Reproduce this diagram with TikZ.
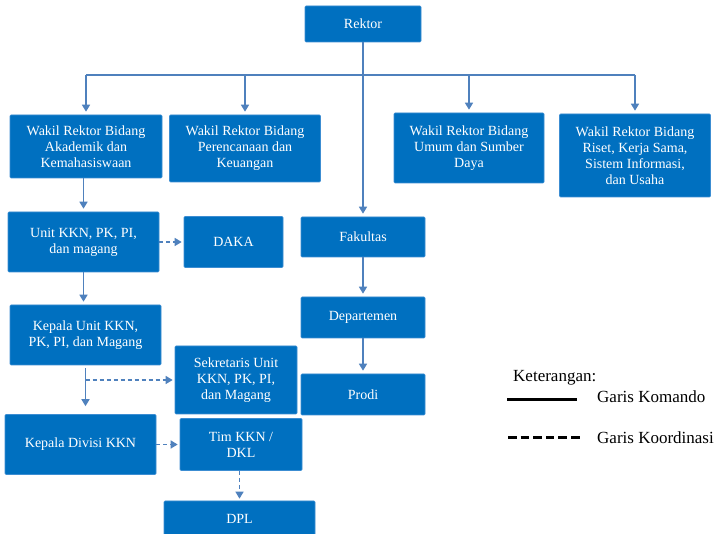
\documentclass[tikz,border=0pt]{standalone}
\usepackage{fontspec}
\setmainfont{Liberation Serif}
\usetikzlibrary{arrows.meta}
\definecolor{boxblue}{HTML}{0070C0}
\definecolor{boxedge}{HTML}{3C8DD2}
\definecolor{linkblue}{HTML}{4F81BD}
\begin{document}
\begin{tikzpicture}[x=1pt,y=-1pt,
  box/.style={draw=boxedge, line width=0.6pt, fill=boxblue, text=white, align=center,
    font=\fontsize{14}{16}\selectfont, inner sep=0pt, rounded corners=1pt},
  cmd/.style={draw=linkblue, line width=1.5pt},
  cmdarrow/.style={cmd, -{Triangle[width=8pt,length=7pt]}, shorten >=3pt},
  coord/.style={draw=linkblue, line width=1.3pt, dash pattern=on 4pt off 3pt,
    -{Triangle[width=8pt,length=7pt]}, shorten >=2pt},
  legendtext/.style={font=\fontsize{17}{20}\selectfont, inner sep=0pt, anchor=west}
]
\useasboundingbox (0,0) rectangle (718,534);
\fill[white] (0,0) rectangle (718,534);

% boxes
\node[box, minimum width=116pt, minimum height=36pt] (rektor) at (363,24) {Rektor};
\node[box, minimum width=152pt, minimum height=63pt] (wr1) at (86,146.5) {Wakil Rektor Bidang\\Akademik dan\\Kemahasiswaan};
\node[box, minimum width=151pt, minimum height=67pt] (wr2) at (245,148.5) {Wakil Rektor Bidang\\Perencanaan dan\\Keuangan};
\node[box, minimum width=150pt, minimum height=70pt] (wr3) at (469,148) {Wakil Rektor Bidang\\Umum dan Sumber\\Daya};
\node[box, minimum width=151pt, minimum height=83pt] (wr4) at (635,155.5) {Wakil Rektor Bidang\\Riset, Kerja Sama,\\Sistem Informasi,\\dan Usaha};

\node[box, minimum width=151pt, minimum height=60pt] (unit) at (83.5,242) {Unit KKN, PK, PI,\\dan magang};
\node[box, minimum width=99pt, minimum height=51pt] (daka) at (233.5,242) {DAKA};
\node[box, minimum width=151pt, minimum height=60pt] (kepunit) at (85.5,335) {Kepala Unit KKN,\\PK, PI, dan Magang};
\node[box, minimum width=122pt, minimum height=68pt] (sekr) at (236,380) {Sekretaris Unit\\KKN, PK, PI,\\dan Magang};
\node[box, minimum width=151pt, minimum height=60pt] (kepdiv) at (80.5,444.5) {Kepala Divisi KKN};
\node[box, minimum width=122pt, minimum height=52pt] (tim) at (241,444.5) {Tim KKN /\\DKL};
\node[box, minimum width=151pt, minimum height=35pt] (dpl) at (239.5,518.5) {DPL};

\node[box, minimum width=124pt, minimum height=40pt] (fak) at (363,237) {Fakultas};
\node[box, minimum width=124pt, minimum height=41pt] (dept) at (363,317.5) {Departemen};
\node[box, minimum width=124pt, minimum height=41pt] (prodi) at (363,394.5) {Prodi};

% command lines
\coordinate (bar) at (363,75);
\draw[cmd] (bar -| wr1.north) -- (bar -| wr4.north);
\draw[cmdarrow] (rektor.south) -- (fak.north);
\draw[cmdarrow] (bar -| wr1.north) -- (wr1.north);
\draw[cmdarrow] (bar -| wr2.north) -- (wr2.north);
\draw[cmdarrow] (bar -| wr3.north) -- (wr3.north);
\draw[cmdarrow] (bar -| wr4.north) -- (wr4.north);
\draw[cmdarrow] (wr1.south -| unit.north) -- (unit.north);
\draw[cmdarrow] (unit.south) -- (unit.south |- kepunit.north);
\draw[cmdarrow, shorten <=3pt, shorten >=8pt] (kepunit.south) -- (kepunit.south |- kepdiv.north);
\draw[cmdarrow] (fak.south) -- (dept.north);
\draw[cmdarrow] (dept.south) -- (prodi.north);

% coordination lines
\draw[coord] (unit.east) -- (daka.west);
\draw[coord] (kepunit.south |- sekr.west) -- (sekr.west);
\draw[coord] (kepdiv.east) -- (tim.west);
\draw[coord] (tim.south -| dpl.north) -- (dpl.north);

% legend
\node[legendtext] (ket) at (513,378) {Keterangan:};
\coordinate (ka) at (507,400);
\coordinate (kb) at (577,400);
\draw[line width=3pt, black] (ka) -- (kb);
\node[legendtext] (gk) at (597,397) {Garis Komando};
\coordinate (da) at (508,438);
\coordinate (db) at (580,438);
\draw[line width=3pt, black, dash pattern=on 8.6pt off 4pt] (da) -- (db);
\node[legendtext] (gko) at (597,438) {Garis Koordinasi};
\end{tikzpicture}
\end{document}
